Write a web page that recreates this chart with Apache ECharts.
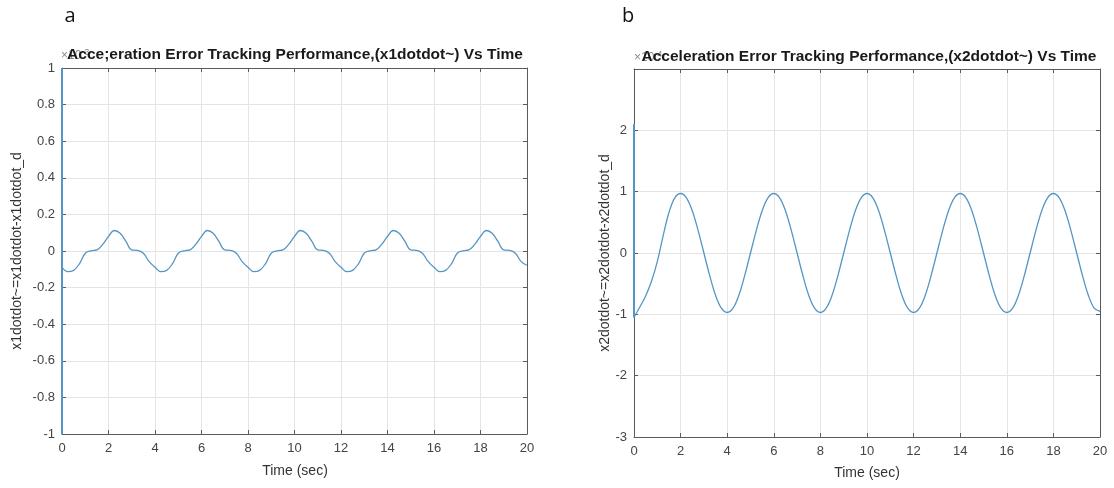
<!DOCTYPE html>
<html>
<head>
<meta charset="utf-8">
<script src="https://cdn.jsdelivr.net/npm/echarts@6/dist/echarts.min.js"></script>
<style>
  html, body { margin: 0; padding: 0; background: #ffffff; }
  #chart { width: 1114px; height: 488px; }
</style>
</head>
<body>
<div id="chart"></div>
<script>
// Sample times (s)
const timeSec = [
  0, 0.25, 0.5, 0.75, 1, 1.25, 1.5, 1.75, 2, 2.25, 2.5, 2.75, 3, 3.25, 3.5, 3.75,
  4, 4.25, 4.5, 4.75, 5, 5.25, 5.5, 5.75, 6, 6.25, 6.5, 6.75, 7, 7.25, 7.5, 7.75,
  8, 8.25, 8.5, 8.75, 9, 9.25, 9.5, 9.75, 10, 10.25, 10.5, 10.75, 11, 11.25, 11.5, 11.75,
  12, 12.25, 12.5, 12.75, 13, 13.25, 13.5, 13.75, 14, 14.25, 14.5, 14.75, 15, 15.25, 15.5, 15.75,
  16, 16.25, 16.5, 16.75, 17, 17.25, 17.5, 17.75, 18, 18.25, 18.5, 18.75, 19, 19.25, 19.5, 19.75,
  20
];

// x1 acceleration error (units of 1e-3)
const accErrX1 = [
  -0.090, -0.113, -0.106, -0.070, -0.012, 0.001, 0.006, 0.036, 0.080, 0.112, 0.097, 0.052, 0.006, 0.004, -0.012, -0.058,
  -0.089, -0.113, -0.106, -0.070, -0.012, 0.001, 0.006, 0.036, 0.080, 0.112, 0.097, 0.052, 0.006, 0.004, -0.012, -0.058,
  -0.089, -0.113, -0.106, -0.070, -0.012, 0.001, 0.006, 0.036, 0.080, 0.112, 0.097, 0.052, 0.006, 0.004, -0.012, -0.058,
  -0.089, -0.113, -0.106, -0.070, -0.012, 0.001, 0.006, 0.036, 0.080, 0.112, 0.097, 0.052, 0.006, 0.004, -0.012, -0.058,
  -0.089, -0.113, -0.106, -0.070, -0.012, 0.001, 0.006, 0.036, 0.080, 0.112, 0.097, 0.052, 0.006, 0.004, -0.012, -0.058,
  -0.078
];

// x2 acceleration error (units of 1e-4)
const accErrX2 = [
  -1.05, -0.88, -0.70, -0.46, -0.14, 0.28, 0.66, 0.90, 0.97, 0.90, 0.69, 0.37, 0.00, -0.37, -0.69, -0.90,
  -0.97, -0.90, -0.69, -0.37, 0.00, 0.37, 0.69, 0.90, 0.97, 0.90, 0.69, 0.37, 0.00, -0.37, -0.69, -0.90,
  -0.97, -0.90, -0.69, -0.37, 0.00, 0.37, 0.69, 0.90, 0.97, 0.90, 0.69, 0.37, 0.00, -0.37, -0.69, -0.90,
  -0.97, -0.90, -0.69, -0.37, 0.00, 0.37, 0.69, 0.90, 0.97, 0.90, 0.69, 0.37, 0.00, -0.37, -0.69, -0.90,
  -0.97, -0.90, -0.69, -0.37, 0.00, 0.37, 0.69, 0.90, 0.97, 0.90, 0.69, 0.37, 0.00, -0.37, -0.69, -0.90,
  -0.95
];

// Initial transient at t = 0 (runs off the top of each plot)
const spikeTime = [0, 0];
const spikeX1 = [1, -1];
const spikeX2 = [2.1, -1.05];

const titleA = 'Acce;eration Error Tracking Performance,(x1dotdot~) Vs Time';
const titleB = 'Acceleration Error Tracking Performance,(x2dotdot~) Vs Time';
const yNameA = 'x1dotdot~=x1dotdot-x1dotdot_d';
const yNameB = 'x2dotdot~=x2dotdot-x2dotdot_d';
const xName = 'Time (sec)';

const FONT = '"Liberation Sans", Arial, Helvetica, sans-serif';
const AXIS_COLOR = '#5a5a5a';
const GRID_COLOR = '#e4e4e4';
const LABEL_COLOR = '#444444';
const LINE_COLOR = '#5596c4';

const pairs = (xs, ys) => xs.map((x, i) => [x, ys[i]]);

const chart = echarts.init(document.getElementById('chart'), null, { renderer: 'canvas' });

const lineOpts = { show: true, onZero: false, lineStyle: { color: AXIS_COLOR, width: 1 } };
const tickOpts = { show: true, inside: true, length: 4, lineStyle: { color: AXIS_COLOR } };

function bottomAxis(gridIndex) {
  return {
    type: 'value', gridIndex, position: 'bottom', min: 0, max: 20, interval: 2,
    axisLine: lineOpts, axisTick: tickOpts,
    axisLabel: { color: LABEL_COLOR, fontSize: 13, fontFamily: FONT, margin: 8 },
    splitLine: { show: true, lineStyle: { color: GRID_COLOR, width: 1 } }
  };
}
function topAxis(gridIndex) {
  return {
    type: 'value', gridIndex, position: 'top', min: 0, max: 20, interval: 2,
    axisLine: lineOpts, axisTick: tickOpts,
    axisLabel: { show: false }, splitLine: { show: false }
  };
}
function leftAxis(gridIndex, min, max, interval, showMax) {
  return {
    type: 'value', gridIndex, position: 'left', min, max, interval,
    axisLine: lineOpts, axisTick: tickOpts,
    axisLabel: { color: LABEL_COLOR, fontSize: 13, fontFamily: FONT, margin: 7, showMaxLabel: showMax },
    splitLine: { show: true, lineStyle: { color: GRID_COLOR, width: 1 } }
  };
}
function rightAxis(gridIndex, min, max, interval) {
  return {
    type: 'value', gridIndex, position: 'right', min, max, interval,
    axisLine: lineOpts, axisTick: tickOpts,
    axisLabel: { show: false }, splitLine: { show: false }
  };
}

function text(x, y, str, opts) {
  return Object.assign({
    type: 'text', x, y, z: 10,
    style: Object.assign({ text: str, fontFamily: FONT, fill: '#222', align: 'center', verticalAlign: 'middle' }, opts.style || {})
  }, opts.el || {});
}

function exponentLabel(x, y, exp) {
  return {
    type: 'text', x, y, z: 5,
    style: {
      text: '{b|×10}{s|' + exp + '}', align: 'left', verticalAlign: 'bottom',
      rich: {
        b: { fontSize: 12, fontFamily: FONT, fill: '#8a8a8a' },
        s: { fontSize: 9, fontFamily: FONT, fill: '#8a8a8a', verticalAlign: 'top', padding: [0, 0, 7, 0] }
      }
    }
  };
}

const option = {
  backgroundColor: '#ffffff',
  animation: false,
  grid: [
    { left: 62, top: 68, width: 465, height: 366, show: false },
    { left: 634, top: 69, width: 466, height: 368, show: false }
  ],
  xAxis: [bottomAxis(0), topAxis(0), bottomAxis(1), topAxis(1)],
  yAxis: [
    leftAxis(0, -1, 1, 0.2, true), rightAxis(0, -1, 1, 0.2),
    leftAxis(1, -3, 3, 1, false), rightAxis(1, -3, 3, 1)
  ],
  series: [
    {
      type: 'line', xAxisIndex: 0, yAxisIndex: 0, data: pairs(timeSec, accErrX1),
      showSymbol: false, smooth: 0.4, lineStyle: { color: LINE_COLOR, width: 1.3 }, z: 3
    },
    {
      type: 'line', xAxisIndex: 0, yAxisIndex: 0, data: pairs(spikeTime, spikeX1),
      showSymbol: false, lineStyle: { color: LINE_COLOR, width: 2 }, z: 4
    },
    {
      type: 'line', xAxisIndex: 2, yAxisIndex: 2, data: pairs(timeSec, accErrX2),
      showSymbol: false, smooth: 0.35, lineStyle: { color: LINE_COLOR, width: 1.3 }, z: 3
    },
    {
      type: 'line', xAxisIndex: 2, yAxisIndex: 2, data: pairs(spikeTime, spikeX2),
      showSymbol: false, lineStyle: { color: LINE_COLOR, width: 2 }, z: 4
    }
  ],
  graphic: [
    // panel letters
    text(70, 16, 'a', { style: { fontSize: 20, fontFamily: '"Open Sans", "Noto Sans", sans-serif', fill: '#111' } }),
    text(628, 16, 'b', { style: { fontSize: 20, fontFamily: '"Open Sans", "Noto Sans", sans-serif', fill: '#111' } }),
    // axis exponent markers, partly covered by the titles
    exponentLabel(61, 64, '-3'),
    exponentLabel(634, 66, '-4'),
    // titles
    text(295, 55, titleA, { style: { fontSize: 15.5, fontWeight: 'bold', fill: '#1a1a1a' } }),
    text(869, 57, titleB, { style: { fontSize: 15.5, fontWeight: 'bold', fill: '#1a1a1a' } }),
    // axis names
    text(295, 471, xName, { style: { fontSize: 14, fill: '#333' } }),
    text(867, 473, xName, { style: { fontSize: 14, fill: '#333' } }),
    text(17, 251, yNameA, { style: { fontSize: 14, fill: '#333' }, el: { rotation: Math.PI / 2 } }),
    text(605, 253, yNameB, { style: { fontSize: 14, fill: '#333' }, el: { rotation: Math.PI / 2 } })
  ]
};

chart.setOption(option);
</script>
</body>
</html>
